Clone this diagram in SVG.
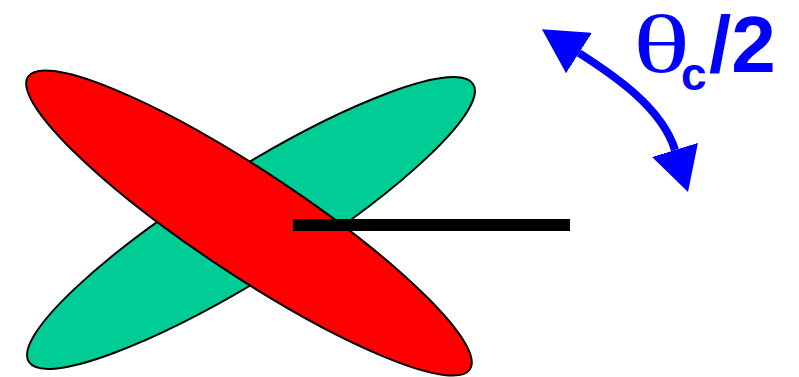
<svg xmlns="http://www.w3.org/2000/svg" width="799" height="377" viewBox="0 0 799 377">
<style>
.ell{stroke:#000;stroke-width:2}
.arc{fill:none;stroke:#0000FF;stroke-width:8}
.lbl{fill:#0000FF}
</style>
<defs>
<marker id="ah" markerUnits="userSpaceOnUse" markerWidth="46" markerHeight="48" refX="0" refY="24" orient="auto-start-reverse" viewBox="0 0 46 48">
<path d="M0,0 L44,24 L0,48 z" fill="#0000FF"/>
</marker>
</defs>
<rect width="799" height="377" fill="#fff"/>
<g id="green-ellipse">
<ellipse class="ell" cx="251" cy="223" rx="262" ry="53" fill="#00CC96" transform="rotate(-32 251 223)"/>
</g>
<g id="red-ellipse">
<ellipse class="ell" cx="249" cy="223" rx="265" ry="52" fill="#FF0000" transform="rotate(33.5 249 223)"/>
</g>
<g id="connectors">
<line x1="293" y1="225" x2="570" y2="225" stroke="#000" stroke-width="12"/>
<path class="arc" d="M579,53 C615,76 662,108 675,150" marker-start="url(#ah)" marker-end="url(#ah)"/>
</g>
<g id="label">
<text x="633" y="72" font-family="Liberation Serif, serif" font-size="82" textLength="57" lengthAdjust="spacingAndGlyphs" class="lbl">θ</text>
<text x="681" y="90" font-family="Liberation Sans, Arial, sans-serif" font-weight="bold" font-size="46" class="lbl">c</text>
<text x="709" y="72" font-family="Liberation Sans, Arial, sans-serif" font-weight="bold" font-size="80" class="lbl">/2</text>
</g>
</svg>
